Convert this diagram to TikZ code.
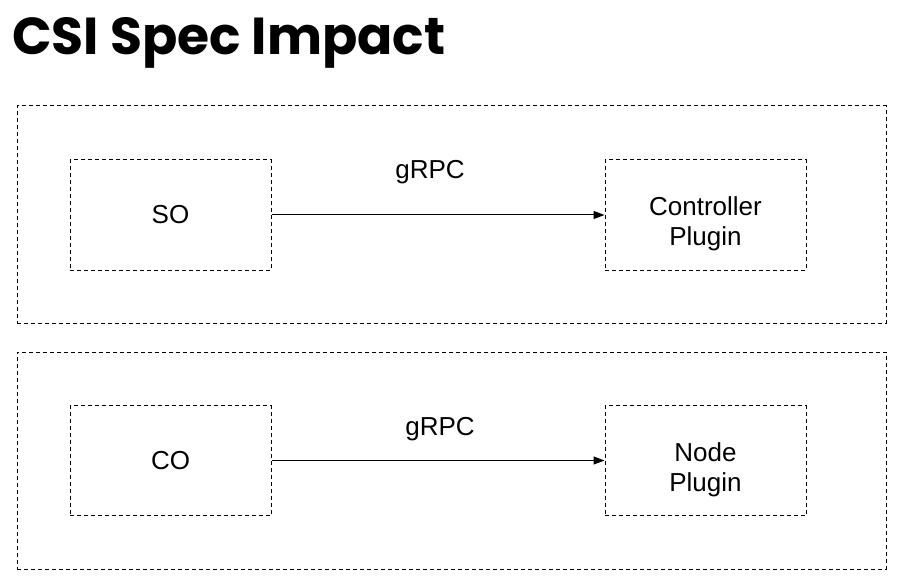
\documentclass[tikz,border=0pt]{standalone}
\usepackage{fontspec}
\setmainfont{Liberation Sans}
\newfontfamily\titlefont{Poppins}
\usetikzlibrary{arrows.meta,positioning}

\begin{document}
\begin{tikzpicture}[x=1pt,y=-1pt,
  outer/.style={draw,dash pattern=on 4pt off 3pt,line width=1pt,
                minimum width=869pt,minimum height=217pt},
  box/.style={draw,dash pattern=on 4pt off 3pt,line width=1pt,
              minimum width=201pt,minimum height=110pt,
              align=center,font=\fontsize{26}{30}\selectfont},
  twoline/.style={box,text height=67pt,text depth=6pt},
  lbl/.style={font=\fontsize{26}{30}\selectfont},
  arr/.style={-{Triangle[length=11pt,width=8pt]},line width=1pt}]
\useasboundingbox (0,0) rectangle (911,583);
\node[anchor=base west,inner sep=0pt,font=\titlefont\bfseries\fontsize{52}{60}\selectfont] (title) at (12,55) {CSI Spec Impact};
% controller side
\node[outer] (ctrlgrp) at (451.5,214.5) {};
\node[box] (so) at (170.5,215) {SO};
\node[twoline] (ctrl) at (705.5,215) {Controller\\Plugin};
\draw[arr] (so.east)--(ctrl.west);
\node[lbl] (rpc1) at (430,172) {gRPC};
% node side
\node[outer] (nodegrp) at (451.5,460.5) {};
\node[box] (co) at (170.5,460.5) {CO};
\node[twoline] (np) at (705.5,460.5) {Node\\Plugin};
\draw[arr] (co.east)--(np.west);
\node[lbl] (rpc2) at (440,429) {gRPC};
\end{tikzpicture}
\end{document}
